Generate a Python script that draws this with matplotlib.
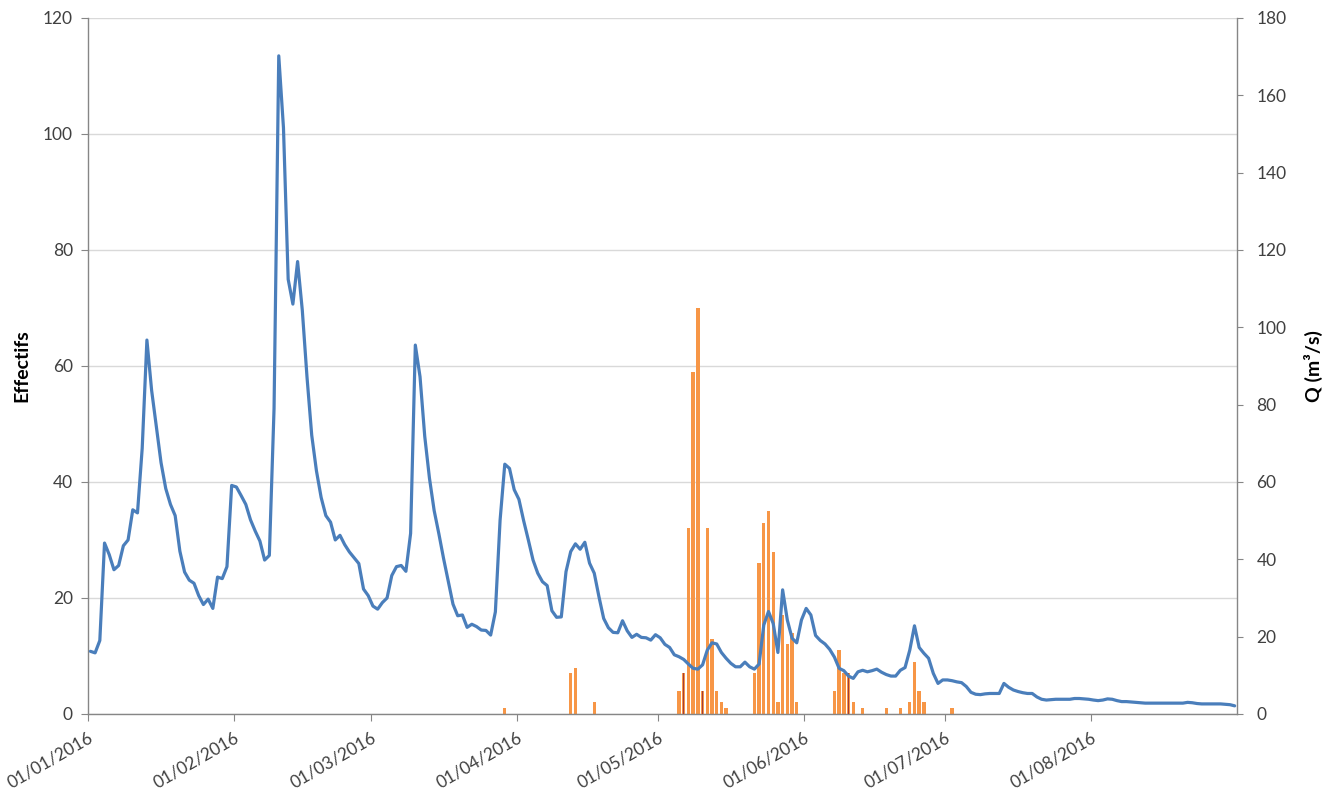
import matplotlib
matplotlib.use("Agg")
import matplotlib.pyplot as plt
import pandas as pd
import numpy as np

plt.rcParams['font.family'] = ['Lato', 'DejaVu Sans']

# ---- data ----
start_date = "2016-01-01"
end_date = "2016-08-31"
axis_end = "2016-09-01"

# Daily discharge Q (m3/s), 01/01/2016 .. 31/08/2016
q_values = [
    16.2, 15.8, 19.0, 44.2, 41.2, 37.3, 38.4, 43.5, 45.0, 52.8,
    52.0, 68.7, 96.7, 83.7, 74.4, 65.0, 58.3, 54.2, 51.3, 42.1,
    36.7, 34.6, 33.8, 30.6, 28.3, 29.7, 27.3, 35.4, 35.0, 38.1,
    59.1, 58.7, 56.5, 54.2, 50.2, 47.3, 44.7, 39.8, 41.0, 79.0,
    170.2, 151.6, 112.4, 106.0, 117.0, 104.4, 87.1, 72.1, 62.9, 56.0,
    51.3, 49.6, 45.0, 46.2, 43.8, 41.9, 40.4, 38.9, 32.3, 30.6,
    27.9, 27.1, 28.8, 30.0, 35.8, 38.1, 38.4, 36.9, 46.7, 95.4,
    87.2, 71.8, 61.0, 52.6, 46.6, 40.2, 34.3, 28.4, 25.4, 25.6,
    22.4, 23.2, 22.6, 21.7, 21.6, 20.4, 26.4, 50.1, 64.6, 63.5,
    58.0, 55.5, 50.0, 45.0, 39.8, 36.4, 34.2, 33.2, 26.7, 25.0,
    25.1, 36.8, 42.0, 44.0, 42.6, 44.4, 39.0, 36.4, 30.3, 24.7,
    22.3, 21.1, 21.0, 24.1, 21.5, 19.8, 20.6, 19.8, 19.7, 19.1,
    20.5, 19.7, 18.0, 17.2, 15.3, 14.8, 14.1, 12.9, 11.8, 11.6,
    12.7, 16.5, 18.4, 18.1, 15.9, 14.4, 13.1, 12.2, 12.2, 13.4,
    12.2, 11.6, 12.9, 23.0, 26.5, 23.4, 15.9, 32.1, 24.3, 19.6,
    18.4, 24.3, 27.3, 25.6, 20.3, 19.0, 18.1, 16.7, 14.7, 11.8,
    11.2, 9.8, 9.2, 10.9, 11.3, 10.9, 11.2, 11.6, 10.8, 10.2,
    9.8, 9.8, 11.3, 12.0, 16.5, 22.8, 17.2, 15.7, 14.4, 10.5,
    7.9, 8.8, 8.8, 8.6, 8.3, 8.1, 7.1, 5.6, 5.1, 5.0,
    5.2, 5.3, 5.3, 5.3, 7.9, 6.9, 6.2, 5.8, 5.5, 5.3,
    5.3, 4.4, 3.8, 3.6, 3.7, 3.8, 3.8, 3.8, 3.8, 4.0,
    4.0, 3.9, 3.8, 3.6, 3.45, 3.6, 3.9, 3.8, 3.45, 3.2,
    3.2, 3.1, 3.0, 2.9, 2.8, 2.8, 2.8, 2.8, 2.8, 2.8,
    2.8, 2.8, 2.8, 3.0, 2.9, 2.7, 2.6, 2.6, 2.6, 2.6,
    2.6, 2.5, 2.4, 2.1,
]

# Counts (Effectifs)
count_dates = [
    "2016-03-29", "2016-04-12", "2016-04-13", "2016-04-17",
    "2016-05-05", "2016-05-06", "2016-05-07", "2016-05-08", "2016-05-09",
    "2016-05-10", "2016-05-11", "2016-05-12", "2016-05-13", "2016-05-14",
    "2016-05-15", "2016-05-21", "2016-05-22", "2016-05-23", "2016-05-24",
    "2016-05-25", "2016-05-26", "2016-05-27", "2016-05-28", "2016-05-29",
    "2016-05-30", "2016-06-07", "2016-06-08", "2016-06-09", "2016-06-10",
    "2016-06-11", "2016-06-13", "2016-06-18", "2016-06-21", "2016-06-23",
    "2016-06-24", "2016-06-25", "2016-06-26", "2016-07-02",
]
count_values = [
    1, 7, 8, 2,
    4, 7, 32, 59, 70,
    4, 32, 13, 4, 2,
    1, 7, 26, 33, 35,
    28, 2, 17, 12, 14,
    2, 4, 11, 7, 7,
    2, 1, 1, 1, 2,
    9, 4, 2, 1,
]

# second (thin, dark red) bar series
marked_dates = ["2016-05-06", "2016-05-10", "2016-06-10"]
marked_values = [7, 4, 7]

month_ticks = ["2016-01-01", "2016-02-01", "2016-03-01", "2016-04-01",
               "2016-05-01", "2016-06-01", "2016-07-01", "2016-08-01"]
month_labels = ["01/01/2016", "01/02/2016", "01/03/2016", "01/04/2016",
                "01/05/2016", "01/06/2016", "01/07/2016", "01/08/2016"]

left_ticks = [0, 20, 40, 60, 80, 100, 120]
right_ticks = [0, 20, 40, 60, 80, 100, 120, 140, 160, 180]

# ---- plot ----
half_day = pd.Timedelta(hours=12)   # each date centred in its day slot
q_dates = pd.date_range(start_date, end_date, freq="D") + half_day
c_dates = pd.to_datetime(count_dates) + half_day
m_dates = pd.to_datetime(marked_dates) + half_day

fig = plt.figure(figsize=(13.3, 7.94), dpi=100)
ax = fig.add_axes([0.0662, 0.1008, 0.8639, 0.8766])
ax2 = ax.twinx()

ax.bar(c_dates, count_values, width=0.72, color="#F79646", zorder=2)
ax.bar(m_dates, marked_values, width=0.12, color="#A33C3A", zorder=3)

ax2.plot(q_dates, q_values, color="#4A7EBB", lw=2.3,
         solid_joinstyle="round", solid_capstyle="round", zorder=4)

ax.set_xlim(pd.Timestamp(start_date), pd.Timestamp(axis_end))
ax.set_ylim(0, 120)
ax2.set_ylim(0, 180)
ax.set_yticks(left_ticks)
ax2.set_yticks(right_ticks)
ax.set_xticks(pd.to_datetime(month_ticks))
ax.set_xticklabels(month_labels, rotation=30, ha="right",
                   rotation_mode="anchor")

ax.grid(axis="y", color="#D9D9D9", lw=1.0, zorder=0)
ax.set_axisbelow(True)

tick_col = "#404040"
spine_col = "#868686"
for a in (ax, ax2):
    a.spines["top"].set_visible(False)
    for s in ("left", "right", "bottom"):
        a.spines[s].set_color(spine_col)
        a.spines[s].set_linewidth(1.0)
ax.spines["right"].set_visible(False)
ax2.spines["left"].set_visible(False)
ax2.spines["bottom"].set_visible(False)

ax.tick_params(axis="y", direction="out", length=5, color=spine_col,
               labelsize=12.5, labelcolor=tick_col, pad=6)
ax.tick_params(axis="x", direction="out", length=5, color=spine_col,
               labelsize=12.5, labelcolor=tick_col, pad=6)
ax2.tick_params(axis="y", direction="out", length=4, color=spine_col,
                labelsize=12.5, labelcolor=tick_col, pad=10)

ax.set_ylabel("Effectifs", fontsize=14, fontweight="bold", color="black")
ax.yaxis.set_label_coords(-0.05, 0.5)
ax2.set_ylabel("Q (m³/s)", fontsize=14, fontweight="bold", color="black",
               rotation=90)
ax2.yaxis.set_label_coords(1.058, 0.5)

fig.savefig("out.png", dpi=100)
